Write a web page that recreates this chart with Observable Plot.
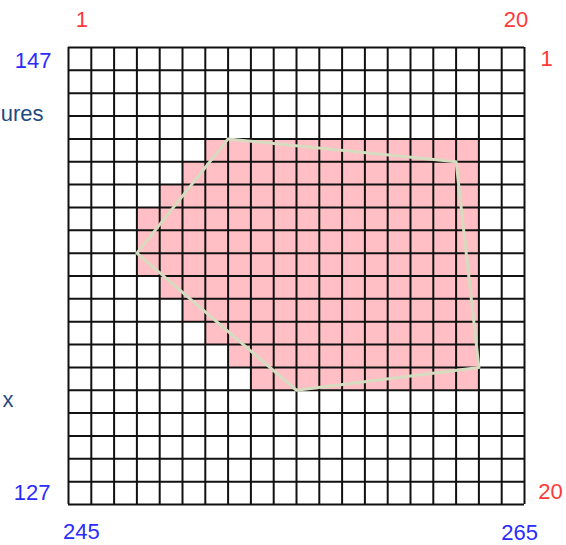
<!DOCTYPE html>
<html>
<head>
<meta charset="utf-8">
<script src="https://cdn.jsdelivr.net/npm/d3@7"></script>
<script src="https://cdn.jsdelivr.net/npm/@observablehq/plot@0.6"></script>
<style>
  html, body { margin: 0; padding: 0; background: #fff; overflow: hidden; }
  #chart { width: 566px; height: 545px; }
</style>
</head>
<body>
<div id="chart"></div>
<script>
// Coordinate extents (blue labels)
const xExtent = [245, 265];
const yExtent = [127, 147];
// Grid index labels (red)
const indexLabels = [1, 20];
// Filled cells: row number (1 = top), first and last filled column (1 = left)
const fillRows  = [5, 6, 7, 8, 9, 10, 11, 12, 13, 14, 15];
const fillStart = [7, 6, 5, 4, 4, 4, 5, 6, 7, 8, 9];
const fillEnd   = [18, 18, 18, 18, 18, 18, 18, 18, 18, 18, 18];
// Polygon outline vertices (map coordinates)
const polyX = [252, 262, 263, 255, 248];
const polyY = [143, 142, 133, 132, 138];
// Partially visible side labels
const sideLabels = ["ures", "x"];

const cells = [];
fillRows.forEach((r, i) => {
  for (let c = fillStart[i]; c <= fillEnd[i]; c++) {
    cells.push({x1: xExtent[0] + c - 1, x2: xExtent[0] + c, y1: yExtent[1] - r, y2: yExtent[1] - r + 1});
  }
});
const poly = polyX.map((x, i) => ({x, y: polyY[i]}));
poly.push(poly[0]);

const red = "#ff3838", blue = "#2b2bff", navy = "#1f4a84";
const fs = 22;

const chart = Plot.plot({
  width: 566,
  height: 545,
  marginLeft: 68,
  marginRight: 42,
  marginTop: 47,
  marginBottom: 41,
  x: {domain: xExtent, axis: null},
  y: {domain: yExtent, axis: null},
  style: {fontFamily: "'Liberation Sans', Arial, sans-serif", background: "#fff"},
  marks: [
    Plot.rect(cells, {x1: "x1", x2: "x2", y1: "y1", y2: "y2", fill: "#ffbfc5"}),
    Plot.ruleX(d3.range(xExtent[0], xExtent[1] + 1), {y1: yExtent[0], y2: yExtent[1], stroke: "#111", strokeWidth: 2}),
    Plot.ruleY(d3.range(yExtent[0], yExtent[1] + 1), {x1: xExtent[0], x2: xExtent[1], stroke: "#111", strokeWidth: 2}),
    Plot.line(poly, {x: "x", y: "y", stroke: "#d6dcc0", strokeWidth: 3, curve: "linear"}),
    // red index labels, top
    Plot.text([indexLabels[0]], {x: xExtent[0] + 0.5, y: yExtent[1], text: d => String(d), dx: 2, dy: -28, fill: red, fontSize: fs}),
    Plot.text([indexLabels[1]], {x: xExtent[1] - 0.5, y: yExtent[1], text: d => String(d), dx: 3, dy: -28, fill: red, fontSize: fs}),
    // red index labels, right
    Plot.text([indexLabels[0]], {x: xExtent[1], y: yExtent[1] - 0.5, text: d => String(d), dx: 22, dy: 0, fill: red, fontSize: fs}),
    Plot.text([indexLabels[1]], {x: xExtent[1], y: yExtent[0] + 0.5, text: d => String(d), dx: 26, dy: -1, fill: red, fontSize: fs}),
    // blue coordinate labels, left
    Plot.text([yExtent[1]], {x: xExtent[0], y: yExtent[1] - 0.5, text: d => String(d), dx: -17, dy: 2, textAnchor: "end", fill: blue, fontSize: fs}),
    Plot.text([yExtent[0]], {x: xExtent[0], y: yExtent[0] + 0.5, text: d => String(d), dx: -18, dy: 0, textAnchor: "end", fill: blue, fontSize: fs}),
    // blue coordinate labels, bottom
    Plot.text([xExtent[0]], {x: xExtent[0] + 0.5, y: yExtent[0], text: d => String(d), dx: 1.5, dy: 27, fill: blue, fontSize: fs}),
    Plot.text([xExtent[1]], {x: xExtent[1] - 0.5, y: yExtent[0], text: d => String(d), dx: 6.5, dy: 28, fill: blue, fontSize: fs}),
    // partially visible side labels
    Plot.text([sideLabels[0]], {x: xExtent[0], y: yExtent[1], text: d => d, dx: -25, dy: 66, textAnchor: "end", fill: navy, fontSize: fs}),
    Plot.text([sideLabels[1]], {x: xExtent[0], y: yExtent[0], text: d => d, dx: -55, dy: -105, textAnchor: "end", fill: navy, fontSize: fs})
  ]
});
document.getElementById("chart").appendChild(chart);
</script>
</body>
</html>
